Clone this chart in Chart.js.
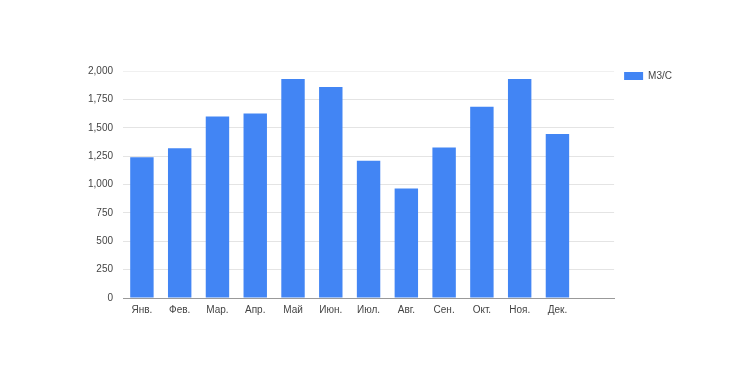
<!DOCTYPE html>
<html>
<head>
<meta charset="utf-8">
<script src="https://cdn.jsdelivr.net/npm/chart.js@4"></script>
<style>
  html, body { margin: 0; padding: 0; background: #fff; }
  #wrap { width: 737px; height: 369px; }
</style>
</head>
<body>
<div id="wrap"><canvas id="chart" width="737" height="369"></canvas></div>
<script>
// months (13th slot is empty in the original)
const months = ['Янв.', 'Фев.', 'Мар.', 'Апр.', 'Май', 'Июн.', 'Июл.', 'Авг.', 'Сен.', 'Окт.', 'Ноя.', 'Дек.', ''];
const flow = [1240, 1320, 1600, 1625, 1930, 1860, 1210, 965, 1325, 1685, 1930, 1445, null];
const seriesName = 'М3/С';
const yTicks = [0, 250, 500, 750, 1000, 1250, 1500, 1750, 2000];

// nudge the legend so it sits level with the top gridline
const legendNudge = {
  id: 'legendNudge',
  afterLayout(chart) {
    if (chart.legend) {
      chart.legend.top -= 10;
      chart.legend.bottom -= 10;
    }
  },
};

const ctx = document.getElementById('chart').getContext('2d');

new Chart(ctx, {
  type: 'bar',
  data: {
    labels: months,
    datasets: [
      {
        label: seriesName,
        data: flow,
        backgroundColor: '#4285f4',
        categoryPercentage: 1,
        barPercentage: 0.62,
      },
    ],
  },
  options: {
    responsive: false,
    animation: false,
    layout: {
      padding: { left: 78, right: 55, top: 71, bottom: 47 },
    },
    scales: {
      x: {
        grid: { display: false, drawTicks: false },
        border: { color: '#999999' },
        ticks: {
          color: '#444444',
          font: { family: 'Liberation Sans', size: 10 },
          padding: 6,
          maxRotation: 0,
          autoSkip: false,
        },
      },
      y: {
        min: 0,
        max: 2000,
        afterBuildTicks: (axis) => {
          axis.ticks = yTicks.map((v) => ({ value: v }));
        },
        grid: {
          color: (c) => (c.tick && c.tick.value === 2000 ? '#f0f0f0' : '#e4e4e4'),
          drawTicks: false,
        },
        border: { display: false },
        ticks: {
          color: '#444444',
          font: { family: 'Liberation Sans', size: 10 },
          padding: 10,
          callback: (v) => Number(v).toLocaleString('en-US'),
        },
      },
    },
    plugins: {
      tooltip: { enabled: false },
      legend: {
        position: 'right',
        align: 'start',
        labels: {
          color: '#444444',
          font: { family: 'Liberation Sans', size: 10 },
          boxWidth: 19,
          boxHeight: 8,
          padding: 10,
        },
      },
    },
  },
  plugins: [legendNudge],
});
</script>
</body>
</html>
